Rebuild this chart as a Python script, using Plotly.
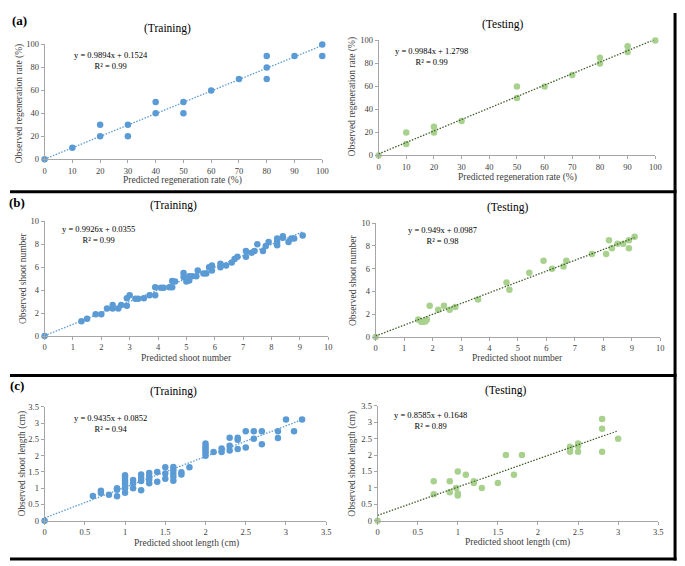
import plotly.graph_objects as go
from plotly.subplots import make_subplots

# the page body keeps an 8px margin, so the figure is laid out 8px up/left of the window
OX, OY = 8, 8
W, H = 685 - OX, 566 - OY

# (a) regeneration rate (%)
regen_train_pred = [0, 10, 20, 20, 30, 30, 40, 40, 50, 50, 60, 70, 80, 80, 80, 90, 100, 100]
regen_train_obs = [0, 10, 20, 30, 30, 20, 40, 50, 50, 40, 60, 70, 90, 80, 70, 90, 100, 90]
regen_test_pred = [0, 10, 10, 20, 20, 30, 50, 50, 60, 70, 80, 80, 90, 90, 100]
regen_test_obs = [0, 20, 10, 25, 20, 30, 60, 50, 60, 70, 85, 80, 95, 90, 100]

# (b) shoot number
num_train_pred = [0, 1.3, 1.5, 1.8, 2.0, 2.2, 2.4, 2.4, 2.6, 2.7, 2.9, 2.9, 3.0, 3.2, 3.3,
                  3.5, 3.7, 3.9, 3.9, 4.1, 4.2, 4.4, 4.5, 4.5, 4.6, 4.9, 4.9, 5.0, 5.1,
                  5.1, 5.2, 5.35, 5.4, 5.6, 5.7, 5.8, 5.9, 5.9, 6.2, 6.2, 6.4, 6.6, 6.7,
                  6.8, 7.1, 7.1, 7.3, 7.4, 7.5, 7.7, 7.8, 7.9, 8.2, 8.2, 8.2, 8.4, 8.4,
                  8.6, 8.7, 8.8, 9.1]
num_train_obs = [0, 1.3, 1.5, 1.9, 1.9, 2.4, 2.7, 2.4, 2.4, 2.7, 2.65, 3.3, 3.55, 3.25, 3.25,
                 3.3, 3.55, 4.25, 3.55, 4.2, 4.2, 4.25, 4.25, 4.8, 4.75, 5.5, 5.15, 4.75, 4.85,
                 5.2, 5.2, 5.2, 5.7, 5.45, 5.45, 6.0, 6.15, 5.7, 6.3, 6.0, 6.15, 6.4, 6.7,
                 6.9, 7.4, 6.9, 7.25, 7.4, 8.0, 7.4, 7.85, 8.2, 8.5, 8.2, 7.9, 8.7, 8.55,
                 8.2, 8.5, 8.5, 8.75]
num_test_pred = [0, 1.5, 1.6, 1.7, 1.75, 1.8, 1.9, 2.2, 2.4, 2.6, 2.8, 3.6, 4.6, 4.7, 5.4,
                 5.9, 6.2, 6.6, 6.7, 7.6, 8.1, 8.2, 8.3, 8.5, 8.7, 8.9, 8.9, 9.1]
num_test_obs = [0, 1.55, 1.35, 1.35, 1.4, 1.55, 2.75, 2.4, 2.75, 2.4, 2.65, 3.3, 4.8, 4.15, 5.65,
                6.7, 6.0, 6.2, 6.7, 7.3, 7.3, 8.5, 7.8, 8.2, 8.2, 8.5, 7.8, 8.8]

# (c) shoot length (cm)
len_train_pred = [0, 0.6, 0.7, 0.7, 0.8, 0.9, 0.9, 0.9,
                  1.0, 1.0, 1.0, 1.0, 1.0, 1.0, 1.0, 1.1, 1.1, 1.1,
                  1.2, 1.2, 1.2, 1.2, 1.3, 1.3, 1.3, 1.3, 1.4, 1.4,
                  1.5, 1.5, 1.5, 1.6, 1.6, 1.6, 1.6, 1.6, 1.7, 1.7, 1.8,
                  2.0, 2.0, 2.0, 2.0, 2.0, 2.0, 2.1, 2.2, 2.2, 2.3, 2.3, 2.3,
                  2.4, 2.4, 2.4, 2.5, 2.5, 2.6, 2.6, 2.7, 2.7, 2.9, 2.9, 3.0, 3.1, 3.2]
len_train_obs = [0, 0.76, 0.92, 0.85, 0.8, 1.0, 0.95, 0.75,
                 1.4, 1.32, 1.23, 1.15, 1.07, 1.0, 0.86, 1.25, 1.15, 1.0,
                 1.42, 1.32, 1.22, 0.94, 1.47, 1.37, 1.27, 1.15, 1.5, 1.2,
                 1.64, 1.45, 1.29, 1.65, 1.55, 1.45, 1.35, 1.23, 1.49, 1.42, 1.64,
                 2.37, 2.29, 2.22, 2.15, 2.09, 2.0, 2.11, 2.22, 2.11, 2.55, 2.3, 2.16,
                 2.55, 2.49, 2.2, 2.75, 2.25, 2.75, 2.52, 2.75, 2.35, 2.75, 2.54, 3.11, 2.75, 3.11]
len_test_pred = [0, 0.7, 0.7, 0.9, 0.9, 0.98, 1.0, 1.0, 1.0, 1.1, 1.2, 1.2, 1.3, 1.5, 1.6,
                 1.7, 1.8, 2.4, 2.4, 2.4, 2.5, 2.5, 2.5, 2.8, 2.8, 2.8, 3.0]
len_test_obs = [0, 1.2, 0.81, 1.2, 0.87, 1.0, 1.5, 0.83, 0.77, 1.4, 1.2, 1.15, 1.0, 1.15, 2.0,
                1.4, 2.0, 2.25, 2.17, 2.1, 2.35, 2.28, 2.1, 3.1, 2.8, 2.1, 2.5]

# fitted trendlines as printed on the chart
fit_slopes = [0.9894, 0.9984, 0.9926, 0.949, 0.9435, 0.8585]
fit_intercepts = [0.1524, 1.2798, 0.0355, 0.0987, 0.0852, 0.1648]
fit_labels = ["y = 0.9894x + 0.1524<br>R² = 0.99", "y = 0.9984x + 1.2798<br>R² = 0.99",
              "y = 0.9926x + 0.0355<br>R² = 0.99", "y = 0.949x + 0.0987<br>R² = 0.98",
              "y = 0.9435x + 0.0852<br>R² = 0.94", "y = 0.8585x + 0.1648<br>R² = 0.89"]

x_titles = ["Predicted regeneration rate (%)", "Predicted shoot number", "Predicted shoot length (cm)"]
y_titles = ["Observed regeneration rate (%)", "Observed shoot number", "Observed shoot length (cm)"]
row_labels = ["(a)", "(b)", "(c)"]

panels = [
    (regen_train_pred, regen_train_obs), (regen_test_pred, regen_test_obs),
    (num_train_pred, num_train_obs), (num_test_pred, num_test_obs),
    (len_train_pred, len_train_obs), (len_test_pred, len_test_obs),
]

FONT = "Liberation Serif"
BLUE, GREEN = "#5B9BD5", "#A9D18E"
LINE_COLORS = ["#5B9BD5", "#3f5e2a"]

# window-pixel geometry of each plot area: x0, x1, ytop, ybottom
boxes = [(43, 324, 40, 157), (381, 661, 36, 153),
         (43, 330, 220, 337), (378, 666, 222, 338),
         (43, 328, 409, 525), (380, 664, 408, 525)]
ranges = [(100, 10, 20), (10, 1, 2), (3.5, 0.5, 0.5)]
eq_pos = [(110, 56), (435, 52), (98, 234), (446, 235), (110, 426), (434, 423)]
title_pos = [(167, 24), (507, 20), (173, 204), (512, 206), (173, 393), (510, 392)]
xt_pos = [(183, 179), (522, 175), (187, 359), (522, 359), (187, 548), (522, 547)]
yt_pos = [(17, 100), (355, 93), (21, 278), (355, 280), (21, 467), (355, 467)]
label_pos = [(18, 16), (15, 201), (15, 387)]
row_lines = [190, 377, 564]


def px(x):
    return (x - OX) / W


def py(y):
    return 1 - (y - OY) / H


def text(fig, x, y, s, size, color="#000000", angle=0):
    fig.add_annotation(x=px(x), y=py(y), xref="paper", yref="paper", text=s,
                       showarrow=False, xanchor="center", yanchor="middle",
                       textangle=angle, align="center",
                       font=dict(family=FONT, size=size, color=color))


fig = make_subplots(rows=3, cols=2)

for i, (xs, ys) in enumerate(panels):
    r, c = i // 2 + 1, i % 2 + 1
    color = BLUE if c == 1 else GREEN
    xmax, xd, yd = ranges[r - 1]

    fig.add_trace(go.Scatter(x=xs, y=ys, mode="markers", cliponaxis=False,
                             marker=dict(color=color, size=6.5)), row=r, col=c)

    x0, x1 = min(xs), max(xs)
    fig.add_trace(go.Scatter(x=[x0, x1],
                             y=[fit_slopes[i] * x0 + fit_intercepts[i], fit_slopes[i] * x1 + fit_intercepts[i]],
                             mode="lines", cliponaxis=False,
                             line=dict(color=LINE_COLORS[c - 1], width=1.3, dash="1.5px,1.5px")),
                  row=r, col=c)

    bx0, bx1, byt, byb = boxes[i]
    axis_style = dict(showline=True, linecolor="#a6a6a6", linewidth=1, ticks="outside",
                      ticklen=3, tickcolor="#a6a6a6", showgrid=False, zeroline=False,
                      tickfont=dict(family=FONT, size=8.5, color="#404040"))
    fig.update_xaxes(domain=[px(bx0), px(bx1)], range=[0, xmax], dtick=xd, tick0=0,
                     **axis_style, row=r, col=c)
    fig.update_yaxes(domain=[py(byb), py(byt)], range=[0, xmax], dtick=yd, tick0=0,
                     **axis_style, row=r, col=c)

    text(fig, *eq_pos[i], fit_labels[i], 8.5)
    text(fig, *title_pos[i], "(Training)" if c == 1 else "(Testing)", 11.5)
    text(fig, *xt_pos[i], x_titles[r - 1], 9.5, "#404040")
    text(fig, *yt_pos[i], y_titles[r - 1], 9.5, "#404040", angle=-90)

for k, lab in enumerate(row_labels):
    text(fig, *label_pos[k], "<b>" + lab + "</b>", 13)

# row frames (the outer top/left edges sit inside the page margin)
for y in row_lines:
    fig.add_shape(type="line", xref="paper", yref="paper", x0=0, x1=px(682.5),
                  y0=py(y), y1=py(y), line=dict(color="#000000", width=3))
fig.add_shape(type="line", xref="paper", yref="paper", x0=px(681), x1=px(681),
              y0=py(565.5), y1=1, line=dict(color="#000000", width=3))

fig.update_layout(width=W, height=H, autosize=False, showlegend=False,
                  margin=dict(l=0, r=0, t=0, b=0),
                  plot_bgcolor="white", paper_bgcolor="white")

fig.write_html("out.html")
